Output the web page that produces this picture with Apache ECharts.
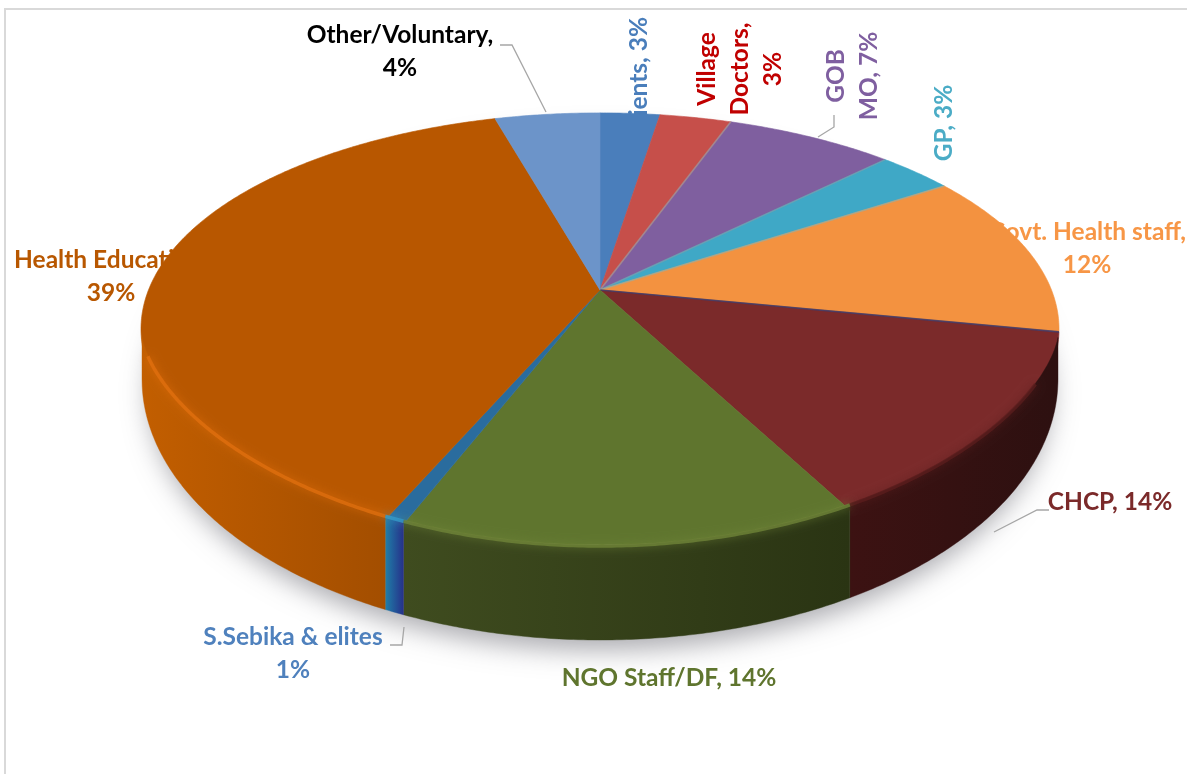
<!DOCTYPE html>
<html>
<head>
<meta charset="utf-8">
<style>html,body{margin:0;padding:0;background:#fff}#c{width:1187px;height:774px}</style>
<script src="https://cdn.jsdelivr.net/npm/echarts@6/dist/echarts.min.js"></script>
</head>
<body>
<div id="c"></div>
<script>
// ---- data ----
const categories = ['Patients','Village Doctors','GOB MO','GP','Govt. Health staff','CHCP','NGO Staff/DF','S.Sebika & elites','Health Education','Other/Voluntary'];
const values = [2.5, 3.0, 7.1, 3.2, 12.3, 14.2, 13.6, 0.6, 39.1, 4.4];
const labelTemplates = ['Patients, {p}','Village\nDoctors,\n{p}','GOB\nMO, {p}','GP, {p}','Govt. Health staff,\n{p}','CHCP, {p}','NGO Staff/DF, {p}','S.Sebika & elites\n{p}','Health Education,\n{p}','Other/Voluntary,\n{p}'];

// ---- styles ----
const topColors = ['#4a7ebb','#c64f4a','#7f5f9f','#3fa8c6','#f39240','#7b2a2a','#5f752e','#2a6c9e','#b85700','#6c94c9'];
const wallColors = [
  ['#3a6391','#3a6391'],['#8f3835','#8f3835'],['#5a4270','#5a4270'],['#2c7a90','#2c7a90'],['#4a4a30','#4a4a30'],
  ['#3c1212','#2d1010'],['#3f4c1f','#2a3413'],['#1f7fa8','#26318a'],['#c25e00','#a34e00'],['#4f70a0','#4f70a0']];
const rimColors = ['#5a8ecb','#d05a55','#8f6faf','#4fb8d6','#f7a050','#5c1e1e','#71873a','#35a0cc','#e2700f','#7ca4d9'];
const edgeColors = [null,null,'#a89090','#6f9fb0','#a8a890','#3c3c6e',null,null,null,null];
const labelColors = ['#4a7ebb','#c00000','#7f5fa0','#4bacc6','#f79646','#7b2a2a','#5f752e','#4f81bd','#b85700','#000000'];
// label anchor: x, y, rotated, align
const labelLayout = [
  {x:639,y:17,rot:true,align:'right'},
  {x:740,y:69,rot:true,align:'center'},
  {x:853,y:76,rot:true,align:'center'},
  {x:944,y:123,rot:true,align:'center'},
  {x:1087,y:249,align:'center'},
  {x:1110,y:502,align:'center'},
  {x:669,y:678,align:'center'},
  {x:293,y:654,align:'center'},
  {x:111,y:277,align:'center'},
  {x:400,y:52,align:'center'}
];
const leaderLines = [
  [[500,45],[512,45],[546,112]],
  [[834,115],[834,127],[818,137]],
  [[1049,510],[1037,510],[994,532]],
  [[390,645],[402,645],[404,627]]
];
const FONT = 'Lato, "Open Sans", sans-serif', FS = 24.5, LH = 33;

// ---- projection of the pie disc ----
const CX = 600, CY = 290, A = 451.5, B = 209, K = 0.18;
const rad = d => d * Math.PI / 180;
function proj(deg){
  const u = Math.sin(rad(deg)), v = Math.cos(rad(deg)), w = 1 + K * v;
  return [CX + A * u / w, CY - B * v / w];
}
const BOT = {cy:379, ry:261, rx:458};
const RIM = {cy:329, ry:216, rx:459, pow:0.6};
function bottomY(x){ const t=(x-CX)/BOT.rx; return BOT.cy + BOT.ry*Math.sqrt(Math.max(0,1-t*t)); }
function rimY(x){ const t=(x-CX)/RIM.rx; return RIM.cy + RIM.ry*Math.pow(Math.max(0,1-t*t),RIM.pow); }

const total = values.reduce((a,b)=>a+b,0);
const rows = []; let acc = 0;
values.forEach((v,i)=>{ rows.push({name:categories[i], value:[i, acc/total*360, (acc+v)/total*360]}); acc += v; });

function arc(a0,a1){ const n=Math.max(2,Math.ceil((a1-a0)/0.5)), p=[]; for(let i=0;i<=n;i++) p.push(proj(a0+(a1-a0)*i/n)); return p; }

const WALL_A0 = 100.4, WALL_A1 = 259.6, RIM_A0 = 118, RIM_A1 = 250;
function range(a0,a1,lo,hi){ const s=Math.max(a0,lo), e=Math.min(a1,hi); return s<e?[s,e]:null; }
const clampX = x => Math.max(CX-BOT.rx, Math.min(CX+BOT.rx, x));

function topItem(params, api){
  const i=api.value(0), a0=api.value(1), a1=api.value(2);
  const kids=[{type:'polygon',shape:{points:[[CX,CY]].concat(arc(a0,a1))},style:{fill:topColors[i],stroke:topColors[i],lineWidth:0.6}}];
  if(edgeColors[i]) kids.push({type:'line',shape:{x1:CX,y1:CY,x2:proj(a0)[0],y2:proj(a0)[1]},style:{stroke:edgeColors[i],lineWidth:1.6,opacity:0.8}});
  return {type:'group',children:kids};
}
function wallItem(params, api){
  const i=api.value(0), r=range(api.value(1),api.value(2),WALL_A0,WALL_A1);
  if(!r) return {type:'group',children:[]};
  const xs=arc(r[0],r[1]).map(p=>clampX(p[0]));
  const up=xs.map(x=>[x,rimY(x)]), lo=xs.slice().reverse().map(x=>[x,bottomY(x)]);
  const x0=Math.min.apply(null,xs), x1=Math.max.apply(null,xs);
  const grad=()=>new echarts.graphic.LinearGradient(x0,0,x1,0,[{offset:0,color:wallColors[i][0]},{offset:1,color:wallColors[i][1]}],true);
  return {type:'polygon',shape:{points:up.concat(lo)},style:{fill:grad(),stroke:grad(),lineWidth:0.4}};
}
function rimItem(params, api){
  const i=api.value(0), r=range(api.value(1),api.value(2),RIM_A0,RIM_A1);
  if(!r) return {type:'group',children:[]};
  const pts=arc(r[0],r[1]).map(p=>{const x=clampX(p[0]); return [x,rimY(x)+1];});
  return {type:'polyline',shape:{points:pts},style:{fill:null,stroke:rimColors[i],lineWidth:3.5,opacity:0.75,shadowBlur:8,shadowColor:rimColors[i]}};
}
function labelItem(params, api){
  const i=api.value(0), l=labelLayout[i];
  const text=labelTemplates[i].replace('{p}',Math.round(values[i])+'%');
  return {type:'text',x:l.x,y:l.y,rotation:l.rot?Math.PI/2:0,style:{x:0,y:0,text:text,fill:labelColors[i],
    font:'bold '+FS+'px '+FONT,lineHeight:LH,align:l.align,verticalAlign:'middle'}};
}
function shadowItem(){
  const pts=[]; for(let a=0;a<360;a+=2){ pts.push([CX+BOT.rx*Math.sin(rad(a))*0.985, BOT.cy-BOT.ry*Math.cos(rad(a))*0.985]); }
  return {type:'polygon',shape:{points:pts},style:{fill:'#d8d8d8',shadowBlur:26,shadowColor:'rgba(90,90,100,0.5)',shadowOffsetY:14}};
}

const chart = echarts.init(document.getElementById('c'),null,{renderer:'canvas'});
const custom = (name,z,fn,data)=>({type:'custom',name:name,coordinateSystem:'none',z:z,silent:true,animation:false,renderItem:fn,data:data,clip:false});
chart.setOption({
  backgroundColor:'#ffffff',
  animation:false,
  series:[
    custom('shadow',1,shadowItem,[{value:[0]}]),
    custom('labels',2,labelItem,rows),
    custom('top',3,topItem,rows),
    custom('wall',4,wallItem,rows),
    custom('rim',5,rimItem,rows)
  ],
  graphic:[
    {type:'polyline',z:10,silent:true,shape:{points:[[5,774],[5,9],[1187,9]]},style:{fill:null,stroke:'#d9d9d9',lineWidth:2}}
  ].concat(leaderLines.map(p=>({type:'polyline',z:10,silent:true,shape:{points:p},style:{fill:null,stroke:'#a6a6a6',lineWidth:1.3}})))
});
</script>
</body>
</html>
